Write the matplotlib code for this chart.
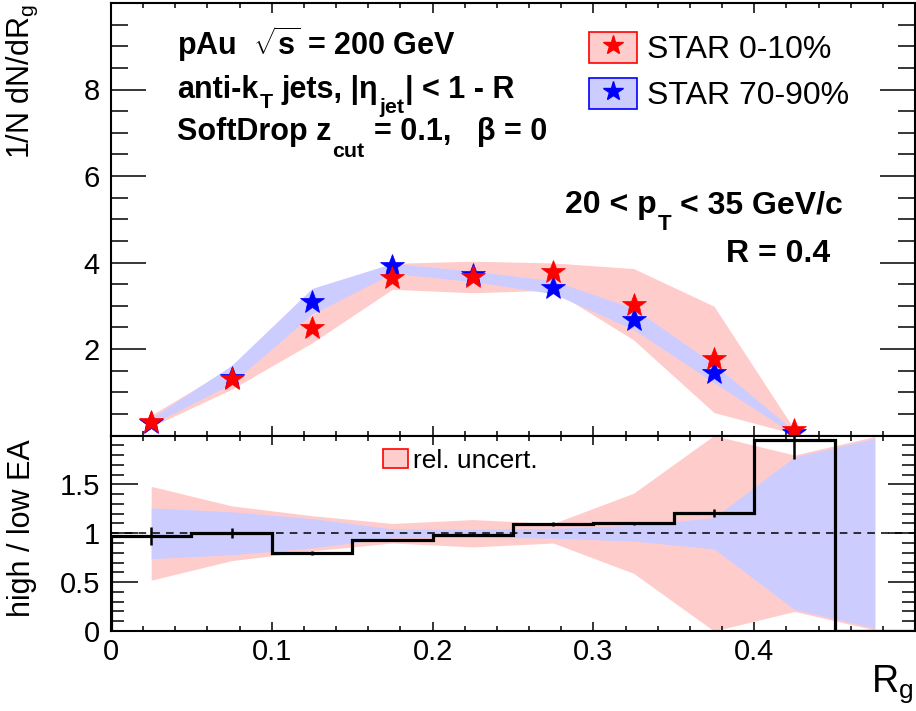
import matplotlib
matplotlib.use("Agg")
import matplotlib.pyplot as plt
from matplotlib.ticker import MultipleLocator, FixedLocator
from matplotlib.patches import Patch
from matplotlib.lines import Line2D
import numpy as np

plt.rcParams["font.family"] = ["Liberation Sans", "DejaVu Sans"]
plt.rcParams["mathtext.fontset"] = "custom"
plt.rcParams["mathtext.rm"] = "Liberation Sans"
plt.rcParams["mathtext.it"] = "Liberation Sans"
plt.rcParams["mathtext.bf"] = "Liberation Sans:bold"
plt.rcParams["mathtext.sf"] = "Liberation Sans"

# ---- data ----------------------------------------------------------------
rg_centers = [0.025, 0.075, 0.125, 0.175, 0.225, 0.275, 0.325, 0.375, 0.425]

# STAR 0-10% (high event activity)
high_val = [0.32, 1.31, 2.48, 3.65, 3.67, 3.78, 3.01, 1.76, 0.13]
high_lo = [0.20, 1.07, 2.14, 3.38, 3.30, 3.36, 2.21, 0.53, 0.04]
high_hi = [0.47, 1.58, 2.78, 3.98, 4.03, 3.99, 3.86, 2.99, 0.14]

# STAR 70-90% (low event activity)
low_val = [0.30, 1.33, 3.09, 3.92, 3.72, 3.42, 2.68, 1.45, 0.06]
low_lo = [0.25, 1.20, 2.80, 3.75, 3.56, 3.28, 2.45, 1.22, 0.02]
low_hi = [0.40, 1.62, 3.40, 3.98, 3.80, 3.58, 2.94, 1.65, 0.10]

# high / low ratio
ratio_edges = [0.0, 0.05, 0.10, 0.15, 0.20, 0.25, 0.30, 0.35, 0.40, 0.45, 0.50]
ratio_centers = [0.025, 0.075, 0.125, 0.175, 0.225, 0.275, 0.325, 0.375, 0.425, 0.475]
ratio_val = [0.97, 1.00, 0.80, 0.935, 0.985, 1.09, 1.10, 1.21, 1.95, 0.0]
ratio_err = [0.09, 0.05, 0.02, 0.01, 0.015, 0.02, 0.02, 0.04, 0.19, 0.0]

# relative uncertainties around unity
high_rel = [0.48, 0.28, 0.18, 0.10, 0.14, 0.10, 0.41, 1.00, 0.80, 0.99]
low_rel = [0.26, 0.22, 0.15, 0.045, 0.04, 0.05, 0.08, 0.16, 0.78, 0.97]

top_yticks = [0, 2, 4, 6, 8, 10]
top_yticklabels = ["", "2", "4", "6", "8", ""]
bot_yticks = [0, 0.5, 1, 1.5, 2]
bot_yticklabels = ["0", "0.5", "1", "1.5", ""]
xticks = [0, 0.1, 0.2, 0.3, 0.4, 0.5]
xticklabels = ["0", "0.1", "0.2", "0.3", "0.4", ""]

# ---- style ---------------------------------------------------------------
RED = "#ff0000"
BLUE = "#0000ff"
PINK = "#ffcccc"
LILAC = "#ccccff"

W, H = 916, 711
fig = plt.figure(figsize=(W / 100, H / 100), dpi=100)
renderer = fig.canvas.get_renderer()

x0, x1 = 111, 915
y_top, y_mid, y_bot = 3, 435.5, 631
ax1 = fig.add_axes([x0 / W, 1 - y_mid / H, (x1 - x0) / W, (y_mid - y_top) / H])
ax2 = fig.add_axes([x0 / W, 1 - y_bot / H, (x1 - x0) / W, (y_bot - y_mid) / H])

for ax in (ax1, ax2):
    for s in ax.spines.values():
        s.set_linewidth(1.5)
    ax.set_xlim(0, 0.5)
    ax.xaxis.set_major_locator(FixedLocator(xticks))
    ax.xaxis.set_minor_locator(MultipleLocator(0.02))
    ax.tick_params(which="both", direction="in", top=True, right=True,
                   width=1.1, labelsize=21, colors="black")


def text_run(x_px, y_px, pieces, size, weight="bold"):
    """Lay out a line of text pieces left to right, each with its own
    scale and baseline drop (for low-set subscripts)."""
    x = x_px
    for txt, scale, drop, gap in pieces:
        x += gap
        t = fig.text(x / W, 1 - (y_px + drop) / H, txt, fontsize=size * scale,
                     fontweight=weight, ha="left", va="baseline")
        x = t.get_window_extent(renderer=renderer).x1


# ---- upper panel ---------------------------------------------------------
ax1.fill_between(rg_centers, high_lo, high_hi, color=PINK, lw=0, zorder=1)
ax1.fill_between(rg_centers, low_lo, low_hi, color=LILAC, lw=0, zorder=2)
ax1.plot(rg_centers, low_val, ls="none", marker="*", ms=18, color=BLUE,
         mec=BLUE, mew=0.5, zorder=4)
ax1.plot(rg_centers, high_val, ls="none", marker="*", ms=18, color=RED,
         mec=RED, mew=0.5, zorder=5)

ax1.set_ylim(0, 10)
ax1.set_yticks(top_yticks, labels=top_yticklabels)
ax1.yaxis.set_minor_locator(MultipleLocator(0.5))
ax1.set_xticklabels([])
ax1.tick_params(axis="y", which="major", length=25, pad=8)
ax1.tick_params(axis="y", which="minor", length=12)
ax1.tick_params(axis="x", which="major", length=7)
ax1.tick_params(axis="x", which="minor", length=3.6)

fig.text(177 / W, 1 - 55 / H, r"pAu  $\sqrt{\mathbf{s}}$ = 200 GeV",
         fontsize=22, fontweight="bold", ha="left", va="baseline")
text_run(177, 98, [("anti-k", 1, 0, 0), ("T", 0.7, 10, 1),
                   ("jets, |η", 1, 0, 9), ("jet", 0.7, 15, 1),
                   ("| < 1 - R", 1, 0, 1)], 22)
text_run(177, 140, [("SoftDrop z", 1, 0, 0), ("cut", 0.7, 17, 1),
                    ("= 0.1,   β = 0", 1, 0, 9)], 22)
text_run(565, 213, [("20 < p", 1, 0, 0), ("T", 0.7, 17, 1),
                    ("< 35 GeV/c", 1, 0, 9)], 23)
fig.text(830 / W, 1 - 262 / H, "R = 0.4", fontsize=23, fontweight="bold",
         ha="right", va="baseline")

handles = [
    (Patch(facecolor=PINK, edgecolor=RED, lw=1.2),
     Line2D([], [], ls="none", marker="*", ms=15, color=RED)),
    (Patch(facecolor=LILAC, edgecolor=BLUE, lw=1.2),
     Line2D([], [], ls="none", marker="*", ms=15, color=BLUE)),
]
fig.legend(handles, ["STAR 0-10%", "STAR 70-90%"], loc="upper left",
           bbox_to_anchor=(589 / W, 1 - 32 / H), frameon=False, fontsize=23,
           borderpad=0, borderaxespad=0, handlelength=1.5, handleheight=1.1,
           handletextpad=0.33, labelspacing=0.40)

# ---- lower panel ---------------------------------------------------------
rc = np.asarray(ratio_centers)
ax2.fill_between(rc, 1 - np.asarray(high_rel), 1 + np.asarray(high_rel),
                 color=PINK, lw=0, zorder=1)
ax2.fill_between(rc, 1 - np.asarray(low_rel), 1 + np.asarray(low_rel),
                 color=LILAC, lw=0, zorder=2)
ax2.axhline(1.0, color="black", ls=(0, (5, 4)), lw=1.1, zorder=3)
ax2.stairs(ratio_val, ratio_edges, color="black", lw=2.3, zorder=4)
ax2.errorbar(ratio_centers[:-1], ratio_val[:-1], yerr=ratio_err[:-1],
             ls="none", color="black", elinewidth=1.8, capsize=0, zorder=5)

ax2.set_ylim(0, 2)
ax2.set_yticks(bot_yticks, labels=bot_yticklabels)
ax2.yaxis.set_minor_locator(MultipleLocator(0.1))
ax2.set_xticklabels(xticklabels)
ax2.tick_params(axis="y", which="major", length=19.5, pad=8)
ax2.tick_params(axis="y", which="minor", length=9.5)
ax2.tick_params(axis="x", which="major", length=6.5, pad=5)
ax2.tick_params(axis="x", which="minor", length=3.3)

ax2.legend([Patch(facecolor=PINK, edgecolor=RED, lw=1.2)], ["rel. uncert."],
           loc="upper left", bbox_to_anchor=(383 / W, 1 - 449 / H),
           bbox_transform=fig.transFigure, frameon=False, fontsize=19,
           borderpad=0, borderaxespad=0, handlelength=0.95, handleheight=0.75,
           handletextpad=0.17)

# ---- axis titles ---------------------------------------------------------
fig.text(22 / W, 1 - 4 / H, r"1/N dN/dR$_{g}$", rotation=90, fontsize=22,
         ha="center", va="top")
fig.text(22 / W, 1 - 528 / H, "high / low EA", rotation=90, fontsize=22,
         ha="center", va="center")
fig.text(913 / W, 1 - 692 / H, r"R$_{g}$", fontsize=27, ha="right",
         va="baseline")

fig.savefig("out.png", dpi=100)
